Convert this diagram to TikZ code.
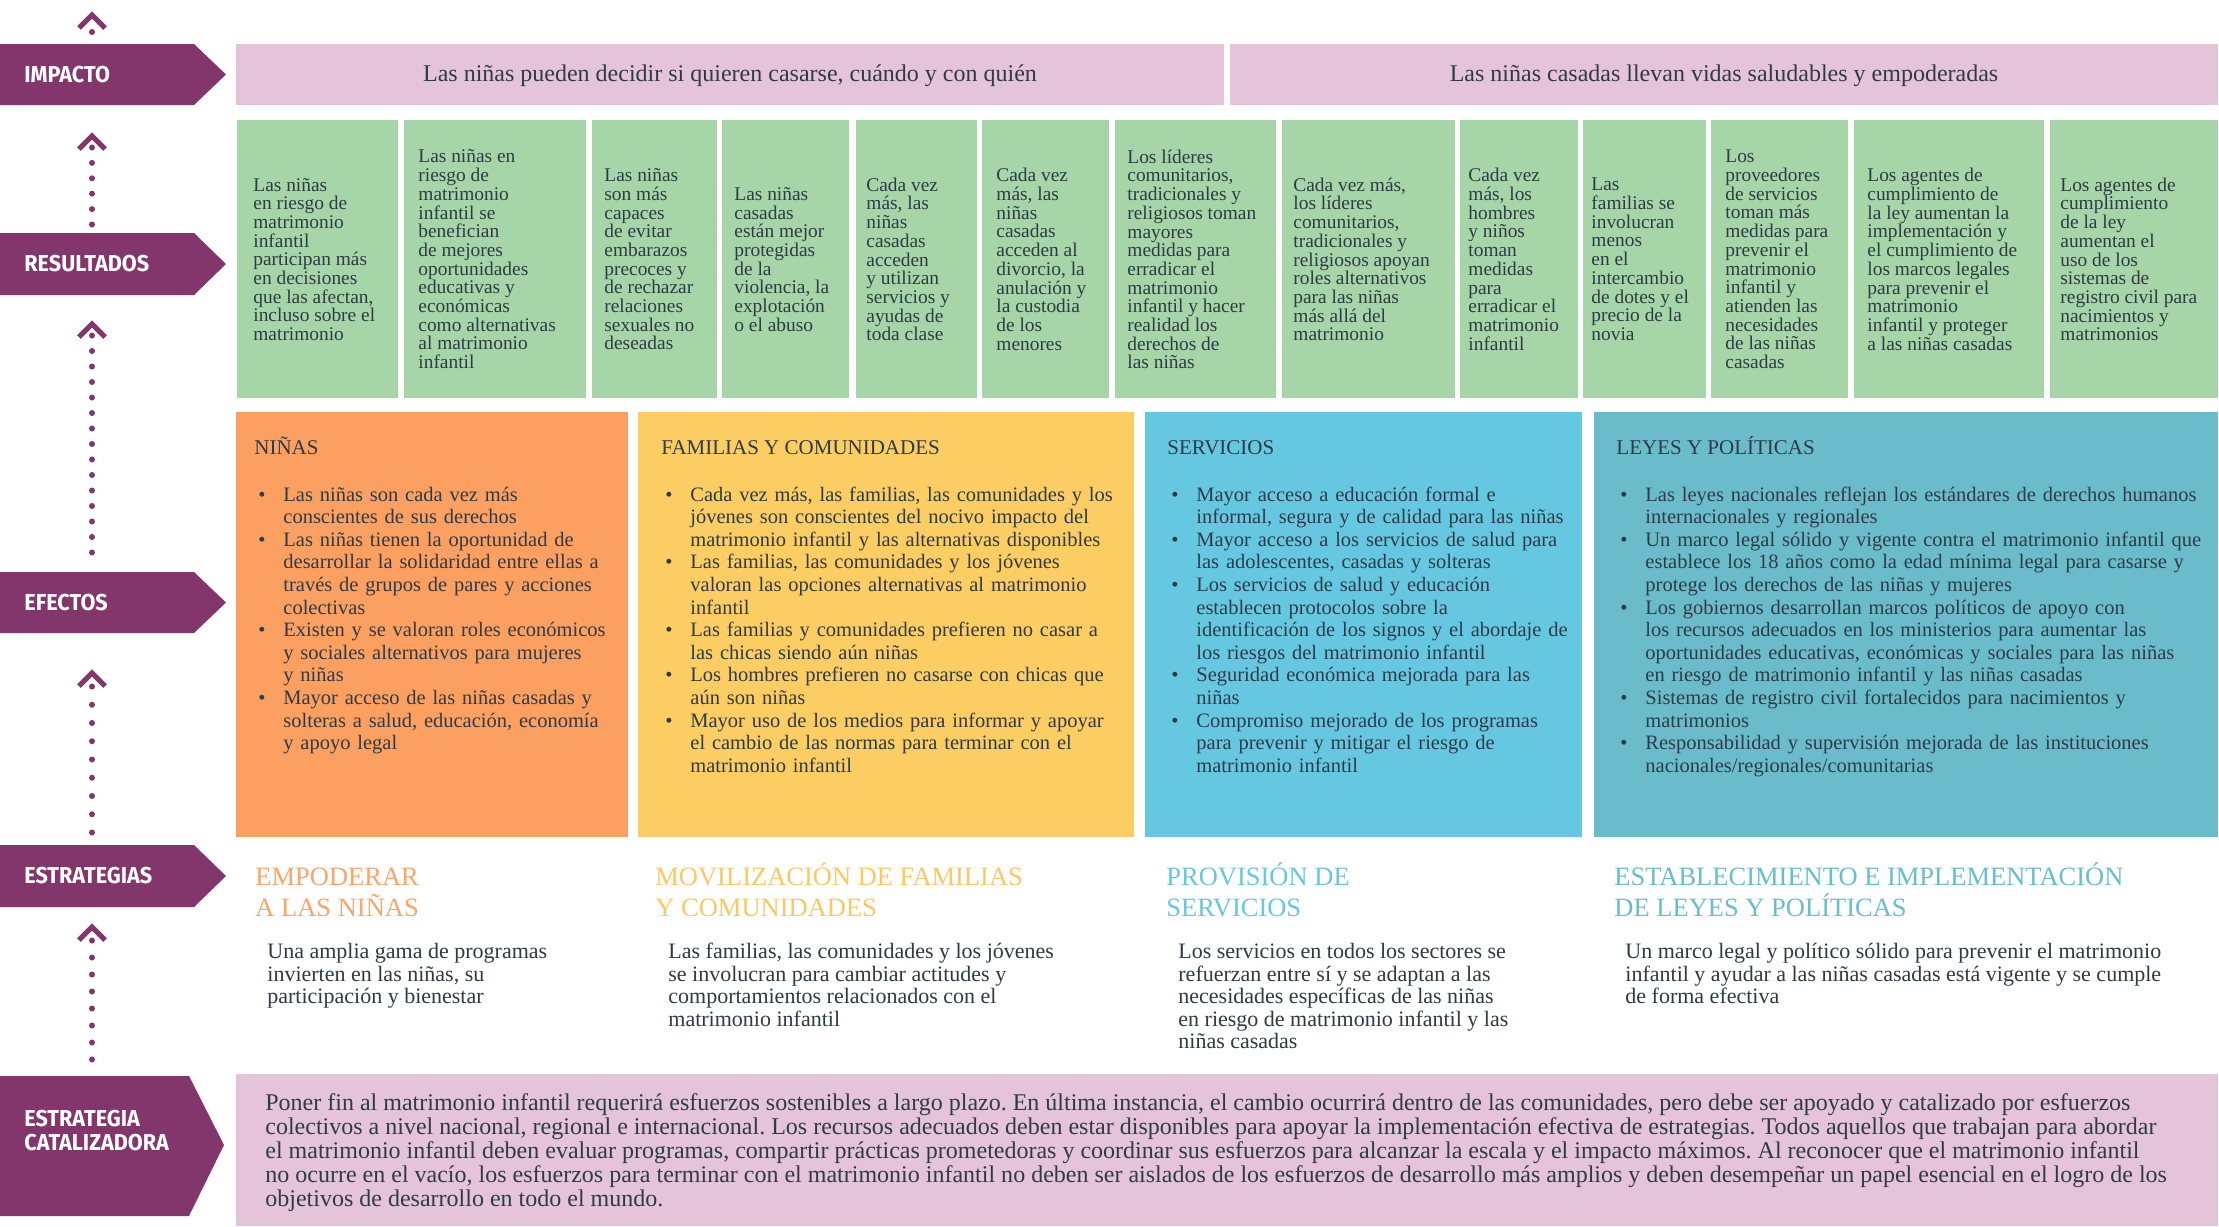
\documentclass[tikz,border=0pt]{standalone}
\usepackage{fontspec}
\usepackage{graphicx}
\setmainfont{Liberation Serif}
\newfontfamily\labfont{Fira Sans}
\frenchspacing
\definecolor{purp}{HTML}{83366B}
\definecolor{pinkb}{HTML}{E5C4DA}
\definecolor{greenb}{HTML}{A6D5A7}
\definecolor{orangeb}{HTML}{FCA062}
\definecolor{yellowb}{HTML}{FCCD62}
\definecolor{blueb}{HTML}{66C8E0}
\definecolor{tealb}{HTML}{6BBCCB}
\definecolor{txt}{HTML}{2E3B47}
\definecolor{torange}{HTML}{FAA56C}
\definecolor{tyellow}{HTML}{FCC865}
\definecolor{tblue}{HTML}{66C8E0}
\definecolor{tteal}{HTML}{69BECC}
\newcommand{\bitem}{\par\noindent\hangindent=14.5pt\hangafter=1\hbox to 14.5pt{\hspace{2pt}\textbullet\hfil}}
\newcommand{\gcol}[5]{%
  \node[gbox, minimum width={(#3-#2)*0.5pt}, anchor=north west] (#1) at (#2,120) {};
  \node[gtxt, anchor=west] (#1t) at ([xshift={#4*0.5pt}]#1.west) {#5};
}
\newcommand{\arrowlab}[2]{%
  \fill[purp] (0,#1) -- (194,#1) -- (226,{(#1+#2)/2}) -- (194,#2) -- (0,#2) -- cycle;
}
\newcommand{\chevron}[1]{%
  \draw[chev] (79,#1+13) -- (92,#1) -- (105,#1+13);
}
\tikzset{
  gbox/.style={fill=greenb, draw=none, inner sep=0pt, minimum height=139pt},
  gtxt/.style={inner sep=0pt, align=left, text=txt, font=\fontsize{9.7}{9.35}\selectfont},
  pbox/.style={fill=pinkb, draw=none, inner sep=0pt, anchor=north west},
  imptxt/.style={inner sep=0pt, anchor=base, text=txt, font=\fontsize{12}{13}\selectfont},
  lab/.style={inner sep=0pt, anchor=west, text=white, font=\labfont\bfseries\fontsize{11.5}{12}\selectfont},
  efbox/.style={draw=none, inner sep=0pt, minimum height=212.5pt, anchor=north west},
  eftitle/.style={inner sep=0pt, anchor=base west, text=txt, font=\fontsize{10.5}{11}\selectfont},
  eflist/.style={inner sep=0pt, anchor=north west, text=txt, text width=400pt, align=left, font=\fontsize{10.25}{11.3}\selectfont},
  sttitle/.style={inner sep=0pt, anchor=base west, font=\fontsize{13.25}{15}\selectfont},
  stdesc/.style={inner sep=0pt, anchor=north west, text=txt, align=left, font=\fontsize{11}{11.25}\selectfont},
  cattxt/.style={inner sep=0pt, anchor=north west, text=txt, align=left, font=\fontsize{12}{12}\selectfont},
  chev/.style={draw=purp, line width=2.6pt, line join=miter},
  dotline/.style={draw=purp, line width=3pt, line cap=round},
}
\begin{document}
\begin{tikzpicture}[x=0.5pt,y=-0.5pt]
\fill[white] (0,0) rectangle (2219,1226);
\useasboundingbox (0,0) rectangle (2219,1226);

% ---------- left arrows ----------
\arrowlab{44}{105}
\node[lab] (limp) at (24,74.5) {\scalebox{0.94}[1]{IMPACTO}};
\arrowlab{233}{295}
\node[lab] (lres) at (24,264) {\scalebox{0.94}[1]{RESULTADOS}};
\arrowlab{572}{633}
\node[lab] (lefe) at (24,602.5) {\scalebox{0.94}[1]{EFECTOS}};
\arrowlab{845}{907}
\node[lab] (lest) at (24,876) {\scalebox{0.94}[1]{ESTRATEGIAS}};
\fill[purp] (0,1076) -- (189,1076) -- (224,1145) -- (189,1216) -- (0,1216) -- cycle;
\node[lab] (lcat1) at (24,1119) {\scalebox{0.94}[1]{ESTRATEGIA}};
\node[lab] (lcat2) at (24,1143) {\scalebox{0.94}[1]{CATALIZADORA}};

% ---------- connectors ----------
\coordinate (c1s) at (92,32);
\coordinate (c2s) at (92,224.5); \coordinate (c2e) at (92,147);
\coordinate (c3s) at (92,552.5); \coordinate (c3e) at (92,335);
\coordinate (c4s) at (92,832.5); \coordinate (c4e) at (92,686);
\coordinate (c5s) at (92,1059.5); \coordinate (c5e) at (92,940);
\chevron{15}
\fill[purp] (c1s) circle (3);
\chevron{136}
\draw[dotline, dash pattern=on 0pt off 7.7pt] (c2s) -- (c2e);
\chevron{324}
\draw[dotline, dash pattern=on 0pt off 7.75pt] (c3s) -- (c3e);
\chevron{673}
\draw[dotline, dash pattern=on 0pt off 9.125pt] (c4s) -- (c4e);
\chevron{927}
\draw[dotline, dash pattern=on 0pt off 8.5pt] (c5s) -- (c5e);

% ---------- impact ----------
\node[pbox, minimum width=494pt, minimum height=30.5pt] (imp1) at (236,44) {};
\node[imptxt] (imp1t) at (730,81) {Las niñas pueden decidir si quieren casarse, cuándo y con quién};
\node[pbox, minimum width=494pt, minimum height=30.5pt] (imp2) at (1230,44) {};
\node[imptxt] (imp2t) at (1724,81) {Las niñas casadas llevan vidas saludables y empoderadas};

% ---------- results ----------
\gcol{g1}{237}{398}{16}{Las niñas\\en riesgo de\\matrimonio\\infantil\\participan más\\en decisiones\\que las afectan,\\incluso sobre el\\matrimonio}
\gcol{g2}{404}{586}{14}{Las niñas en\\riesgo de\\matrimonio\\infantil se\\benefician\\de mejores\\oportunidades\\educativas y\\económicas\\como alternativas\\al matrimonio\\infantil}
\gcol{g3}{592}{717}{12}{Las niñas\\son más\\capaces\\de evitar\\embarazos\\precoces y\\de rechazar\\relaciones\\sexuales no\\deseadas}
\gcol{g4}{722}{849}{12}{Las niñas\\casadas\\están mejor\\protegidas\\de la\\violencia, la\\explotación\\o el abuso}
\gcol{g5}{856}{977}{10}{Cada vez\\más, las\\niñas\\casadas\\acceden\\y utilizan\\servicios y\\ayudas de\\toda clase}
\gcol{g6}{982}{1109}{14}{Cada vez\\más, las\\niñas\\casadas\\acceden al\\divorcio, la\\anulación y\\la custodia\\de los\\menores}
\gcol{g7}{1115}{1276}{12}{Los líderes\\comunitarios,\\tradicionales y\\religiosos toman\\mayores\\medidas para\\erradicar el\\matrimonio\\infantil y hacer\\realidad los\\derechos de\\las niñas}
\gcol{g8}{1282}{1455}{11}{Cada vez más,\\los líderes\\comunitarios,\\tradicionales y\\religiosos apoyan\\roles alternativos\\para las niñas\\más allá del\\matrimonio}
\gcol{g9}{1460}{1578}{8}{Cada vez\\más, los\\hombres\\y niños\\toman\\medidas\\para\\erradicar el\\matrimonio\\infantil}
\gcol{g10}{1583}{1706}{8}{Las\\familias se\\involucran\\menos\\en el\\intercambio\\de dotes y el\\precio de la\\novia}
\gcol{g11}{1711}{1848}{14}{Los\\proveedores\\de servicios\\toman más\\medidas para\\prevenir el\\matrimonio\\infantil y\\atienden las\\necesidades\\de las niñas\\casadas}
\gcol{g12}{1854}{2044}{13}{Los agentes de\\cumplimiento de\\la ley aumentan la\\implementación y\\el cumplimiento de\\los marcos legales\\para prevenir el\\matrimonio\\infantil y proteger\\a las niñas casadas}
\gcol{g13}{2050}{2218}{10}{Los agentes de\\cumplimiento\\de la ley\\aumentan el\\uso de los\\sistemas de\\registro civil para\\nacimientos y\\matrimonios}

% ---------- effects ----------
\node[efbox, fill=orangeb, minimum width=196pt] (ef1) at (236,412) {};
\node[efbox, fill=yellowb, minimum width=248pt] (ef2) at (638,412) {};
\node[efbox, fill=blueb, minimum width=218.5pt] (ef3) at (1145,412) {};
\node[efbox, fill=tealb, minimum width=312pt] (ef4) at (1594,412) {};

\node[eftitle] (ef1h) at (254,454) {NIÑAS};
\node[eftitle] (ef2h) at (661,454) {FAMILIAS Y COMUNIDADES};
\node[eftitle] (ef3h) at (1167,454) {SERVICIOS};
\node[eftitle] (ef4h) at (1616,454) {LEYES Y POLÍTICAS};

\node[eflist] (ef1l) at (254,478) {%
\bitem Las niñas son cada vez más\newline conscientes de sus derechos
\bitem Las niñas tienen la oportunidad de\newline desarrollar la solidaridad entre ellas a\newline través de grupos de pares y acciones\newline colectivas
\bitem Existen y se valoran roles económicos\newline y sociales alternativos para mujeres\newline y niñas
\bitem Mayor acceso de las niñas casadas y\newline solteras a salud, educación, economía\newline y apoyo legal\par};

\node[eflist] (ef2l) at (661,478) {%
\bitem Cada vez más, las familias, las comunidades y los\newline jóvenes son conscientes del nocivo impacto del\newline matrimonio infantil y las alternativas disponibles
\bitem Las familias, las comunidades y los jóvenes\newline valoran las opciones alternativas al matrimonio\newline infantil
\bitem Las familias y comunidades prefieren no casar a\newline las chicas siendo aún niñas
\bitem Los hombres prefieren no casarse con chicas que\newline aún son niñas
\bitem Mayor uso de los medios para informar y apoyar\newline el cambio de las normas para terminar con el\newline matrimonio infantil\par};

\node[eflist] (ef3l) at (1167,478) {%
\bitem Mayor acceso a educación formal e\newline informal, segura y de calidad para las niñas
\bitem Mayor acceso a los servicios de salud para\newline las adolescentes, casadas y solteras
\bitem Los servicios de salud y educación\newline establecen protocolos sobre la\newline identificación de los signos y el abordaje de\newline los riesgos del matrimonio infantil
\bitem Seguridad económica mejorada para las\newline niñas
\bitem Compromiso mejorado de los programas\newline para prevenir y mitigar el riesgo de\newline matrimonio infantil\par};

\node[eflist] (ef4l) at (1616,478) {%
\bitem Las leyes nacionales reflejan los estándares de derechos humanos\newline internacionales y regionales
\bitem Un marco legal sólido y vigente contra el matrimonio infantil que\newline establece los 18 años como la edad mínima legal para casarse y\newline protege los derechos de las niñas y mujeres
\bitem Los gobiernos desarrollan marcos políticos de apoyo con\newline los recursos adecuados en los ministerios para aumentar las\newline oportunidades educativas, económicas y sociales para las niñas\newline en riesgo de matrimonio infantil y las niñas casadas
\bitem Sistemas de registro civil fortalecidos para nacimientos y\newline matrimonios
\bitem Responsabilidad y supervisión mejorada de las instituciones\newline nacionales/regionales/comunitarias\par};

% ---------- strategies ----------
\node[sttitle, text=torange] (st1a) at (255,885) {EMPODERAR};
\node[sttitle, text=torange] (st1b) at (255,916) {A LAS NIÑAS};
\node[sttitle, text=tyellow] (st2a) at (655,885) {MOVILIZACIÓN DE FAMILIAS};
\node[sttitle, text=tyellow] (st2b) at (655,916) {Y COMUNIDADES};
\node[sttitle, text=tblue] (st3a) at (1166,885) {PROVISIÓN DE};
\node[sttitle, text=tblue] (st3b) at (1166,916) {SERVICIOS};
\node[sttitle, text=tteal] (st4a) at (1614,885) {ESTABLECIMIENTO E IMPLEMENTACIÓN};
\node[sttitle, text=tteal] (st4b) at (1614,916) {DE LEYES Y POLÍTICAS};

\node[stdesc] (sd1) at (267,943) {Una amplia gama de programas\\invierten en las niñas, su\\participación y bienestar};
\node[stdesc] (sd2) at (668,943) {Las familias, las comunidades y los jóvenes\\se involucran para cambiar actitudes y\\comportamientos relacionados con el\\matrimonio infantil};
\node[stdesc] (sd3) at (1178,943) {Los servicios en todos los sectores se\\refuerzan entre sí y se adaptan a las\\necesidades específicas de las niñas\\en riesgo de matrimonio infantil y las\\niñas casadas};
\node[stdesc] (sd4) at (1625,943) {Un marco legal y político sólido para prevenir el matrimonio\\infantil y ayudar a las niñas casadas está vigente y se cumple\\de forma efectiva};

% ---------- catalytic ----------
\node[pbox, minimum width=991pt, minimum height=76pt] (cat) at (236,1074) {};
\node[cattxt] (catt) at (265,1093) {Poner fin al matrimonio infantil requerirá esfuerzos sostenibles a largo plazo. En última instancia, el cambio ocurrirá dentro de las comunidades, pero debe ser apoyado y catalizado por esfuerzos\\colectivos a nivel nacional, regional e internacional. Los recursos adecuados deben estar disponibles para apoyar la implementación efectiva de estrategias. Todos aquellos que trabajan para abordar\\el matrimonio infantil deben evaluar programas, compartir prácticas prometedoras y coordinar sus esfuerzos para alcanzar la escala y el impacto máximos. Al reconocer que el matrimonio infantil\\no ocurre en el vacío, los esfuerzos para terminar con el matrimonio infantil no deben ser aislados de los esfuerzos de desarrollo más amplios y deben desempeñar un papel esencial en el logro de los\\objetivos de desarrollo en todo el mundo.};
\end{tikzpicture}
\end{document}
